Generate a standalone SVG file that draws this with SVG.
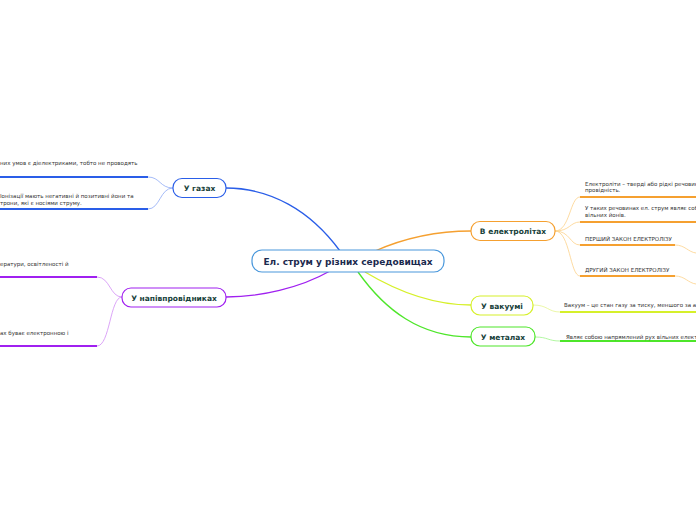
<svg xmlns="http://www.w3.org/2000/svg" width="696" height="520" viewBox="0 0 696 520">
<style>
text{font-family:"DejaVu Sans","Verdana",sans-serif}
.c{font-size:9px;font-weight:bold;fill:#1b2a4e;text-anchor:middle}
.n{font-size:7.5px;font-weight:bold;fill:#173f3a;text-anchor:middle}
.t{font-size:5.5px;fill:#333}
.box{fill:#fff;stroke-width:1.2}
.main{fill:none;stroke-width:1.3}
.sub{fill:none;stroke-width:0.8}
.ul{fill:none;stroke-width:1.8}
</style>
<rect width="696" height="520" fill="#fff"/>
<g id="connectors">
<path class="main" stroke="#2a5ee8" d="M340,251 C310,210 270,188 226,188"/>
<path class="main" stroke="#a020f0" d="M330,271 C300,288 260,297 226,297"/>
<path class="main" stroke="#f5a030" d="M375,251 C400,240 430,231 471,231"/>
<path class="main" stroke="#d6f02a" d="M365,272 C395,290 430,305 471,305"/>
<path class="main" stroke="#4ee62a" d="M358,272 C385,310 420,337 471,337"/>
<path class="sub" stroke="#8eaaf5" d="M173,188 C160,188 160,177 148,177"/>
<path class="sub" stroke="#8eaaf5" d="M173,188 C160,188 160,209 148,209"/>
<path class="sub" stroke="#d28ef5" d="M122,297 C110,297 110,277 97,277"/>
<path class="sub" stroke="#d28ef5" d="M122,297 C110,297 110,346 97,346"/>
<path class="sub" stroke="#fcd28a" d="M555,231 C570,231 570,197 580,197"/>
<path class="sub" stroke="#fcd28a" d="M555,231 C570,231 570,222 580,222"/>
<path class="sub" stroke="#fcd28a" d="M555,231 C570,231 570,245 580,245"/>
<path class="sub" stroke="#fcd28a" d="M555,231 C570,231 570,276 580,276"/>
<path class="sub" stroke="#fcd28a" d="M675,245 C685,245 688,252 696,253"/>
<path class="sub" stroke="#fcd28a" d="M675,276 C685,276 688,283 696,284"/>
<path class="sub" stroke="#e6f590" d="M533,305 C548,305 548,312 560,312"/>
<path class="sub" stroke="#9ef58a" d="M535,337 C548,337 548,341 560,341"/>
<path class="ul" stroke="#2a5ee8" d="M0,177 H148"/>
<path class="ul" stroke="#2a5ee8" d="M0,209 H148"/>
<path class="ul" stroke="#a020f0" d="M0,277 H97"/>
<path class="ul" stroke="#a020f0" d="M0,346 H97"/>
<path class="ul" stroke="#f5a030" d="M580,197 H696"/>
<path class="ul" stroke="#f5a030" d="M580,222 H696"/>
<path class="ul" stroke="#f5a030" d="M580,245 H675"/>
<path class="ul" stroke="#f5a030" d="M580,276 H675"/>
<path class="ul" stroke="#d6f02a" d="M560,312 H696"/>
<path class="ul" stroke="#4ee62a" d="M560,341 H696"/>
</g>
<g id="root">
<rect class="box" stroke="#4a98dc" x="252" y="250" width="192" height="22" rx="10"/>
<text class="c" x="348" y="264.5">Ел. струм у різних середовищах</text>
</g>
<g id="gases">
<rect class="box" stroke="#2a5ee8" x="173" y="178.5" width="53" height="19" rx="9"/>
<text class="n" x="199.5" y="191">У газах</text>
<text class="t" x="0" y="165">них умов є діелектриками, тобто не проводять</text>
<text class="t" x="0" y="198">Іонізації мають негативні й позитивні йони та</text>
<text class="t" x="0" y="205">трони, які є носіями струму.</text>
</g>
<g id="semiconductors">
<rect class="box" stroke="#a020f0" x="122" y="288" width="104" height="19" rx="9"/>
<text class="n" x="174" y="300.5">У напівпровідниках</text>
<text class="t" x="0" y="266">ератури, освітленості й</text>
<text class="t" x="0" y="335">ах буває електронною і</text>
</g>
<g id="electrolytes">
<rect class="box" stroke="#f5a030" x="471" y="221.5" width="84" height="19" rx="9"/>
<text class="n" x="513" y="234">В електролітах</text>
<text class="t" x="585" y="185.5">Електроліти – тверді або рідкі речовин</text>
<text class="t" x="585" y="192">провідність.</text>
<text class="t" x="585" y="210">У таких речовинах ел. струм являє собі</text>
<text class="t" x="585" y="216.5">вільних йонів.</text>
<text class="t" x="585" y="241">ПЕРШИЙ ЗАКОН ЕЛЕКТРОЛІЗУ</text>
<text class="t" x="585" y="272">ДРУГИЙ ЗАКОН ЕЛЕКТРОЛІЗУ</text>
</g>
<g id="vacuum">
<rect class="box" stroke="#d6f02a" x="471" y="296" width="62" height="19" rx="9"/>
<text class="n" x="502" y="308.5">У вакуумі</text>
<text class="t" x="564" y="307">Вакуум – це стан газу за тиску, меншого за ат</text>
</g>
<g id="metals">
<rect class="box" stroke="#4ee62a" x="471" y="327" width="64" height="19" rx="9"/>
<text class="n" x="503" y="339.5">У металах</text>
<text class="t" x="566" y="338.5">Являє собою напрямлений рух вільних електр</text>
</g>
</svg>
